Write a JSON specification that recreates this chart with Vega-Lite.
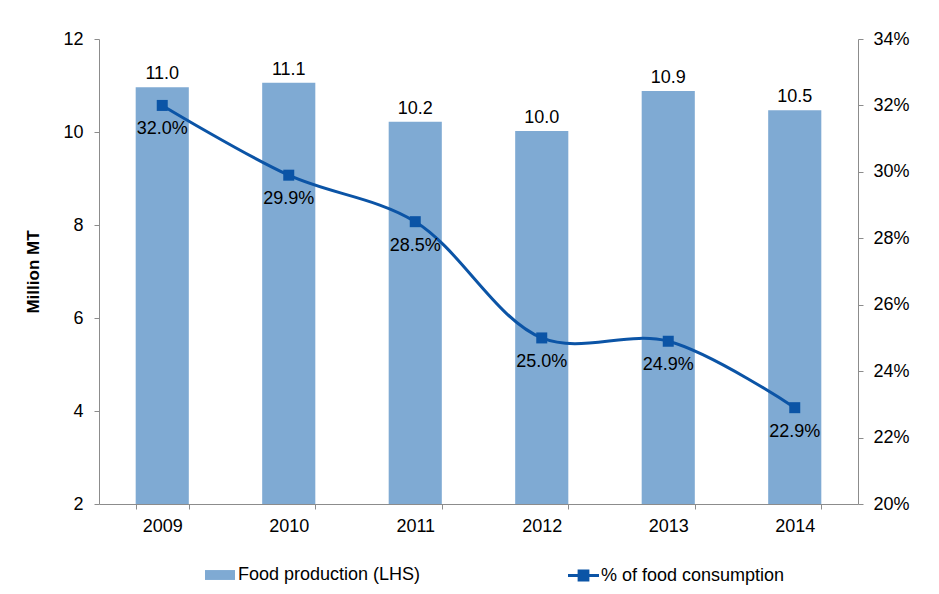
{
  "$schema": "https://vega.github.io/schema/vega-lite/v6.json",
  "width": 759,
  "height": 465,
  "autosize": "none",
  "padding": {"left": 99, "top": 39, "right": 81, "bottom": 90},
  "background": "white",
  "config": {
    "view": {"stroke": null},
    "font": "Liberation Sans",
    "axis": {"labelFont": "Liberation Sans", "labelFontSize": 18, "labelColor": "#000000", "domainColor": "#8c8c8c", "tickColor": "#8c8c8c", "tickSize": 5, "grid": false},
    "legend": {"labelFont": "Liberation Sans", "labelFontSize": 18, "labelColor": "#000000", "padding": 0, "labelLimit": 400}
  },
  "data": {
    "values": [
      {"year": "2009", "prod": 10.96, "share": 0.320},
      {"year": "2010", "prod": 11.06, "share": 0.299},
      {"year": "2011", "prod": 10.22, "share": 0.285},
      {"year": "2012", "prod": 10.02, "share": 0.250},
      {"year": "2013", "prod": 10.88, "share": 0.249},
      {"year": "2014", "prod": 10.47, "share": 0.229}
    ]
  },
  "encoding": {
    "x": {
      "field": "year", "type": "nominal",
      "scale": {"paddingInner": 0.58, "paddingOuter": 0.29},
      "axis": {"title": null, "labelAngle": 0, "tickBand": "extent", "labelPadding": 8}
    }
  },
  "layer": [
    {
      "mark": {"type": "bar", "color": "#7FAAD3"},
      "encoding": {
        "y": {"field": "prod", "type": "quantitative", "scale": {"domain": [2, 12], "zero": false, "nice": false},
          "axis": {"title": "Million MT", "titleFont": "Liberation Sans", "titleFontSize": 17, "titleFontWeight": "bold", "titleColor": "#000000", "titlePadding": 20, "values": [2, 4, 6, 8, 10, 12], "labelPadding": 11}},
        "y2": {"datum": 2},
        "color": {"datum": "Food production (LHS)", "scale": {"range": ["#7FAAD3"]},
          "legend": {"title": null, "orient": "none", "legendX": 106, "legendY": 521, "symbolType": "M-1,-0.33H1V0.33H-1Z", "symbolSize": 900, "symbolStrokeWidth": 0, "labelOffset": 3}}
      }
    },
    {
      "mark": {"type": "text", "baseline": "bottom", "dy": -4, "fontSize": 18, "font": "Liberation Sans", "color": "#000000"},
      "encoding": {
        "y": {"field": "prod", "type": "quantitative", "scale": {"domain": [2, 12], "zero": false, "nice": false}, "axis": null},
        "text": {"field": "prod", "type": "quantitative", "format": ".1f"}
      }
    },
    {
      "mark": {"type": "line", "interpolate": "catmull-rom", "strokeWidth": 3, "point": {"shape": "square", "size": 121, "filled": true, "color": "#0B54A6"}},
      "encoding": {
        "y": {"field": "share", "type": "quantitative", "scale": {"domain": [0.2, 0.34], "zero": false, "nice": false},
          "axis": {"orient": "right", "title": null, "format": ".0%", "values": [0.2, 0.22, 0.24, 0.26, 0.28, 0.3, 0.32, 0.34], "labelPadding": 10}},
        "color": {"datum": "% of food consumption", "scale": {"range": ["#0B54A6"]},
          "legend": {"title": null, "orient": "none", "legendX": 469, "legendY": 521, "symbolType": "M-1,-0.1H-0.38V-0.38H0.38V-0.1H1V0.1H0.38V0.38H-0.38V0.1H-1Z", "symbolSize": 961, "symbolFillColor": "#0B54A6", "symbolStrokeWidth": 0, "labelOffset": 2}}
      }
    },
    {
      "mark": {"type": "text", "baseline": "middle", "dy": 24, "fontSize": 18, "font": "Liberation Sans", "color": "#000000"},
      "encoding": {
        "y": {"field": "share", "type": "quantitative", "scale": {"domain": [0.2, 0.34], "zero": false, "nice": false}, "axis": null},
        "text": {"field": "share", "type": "quantitative", "format": ".1%"}
      }
    }
  ],
  "resolve": {"scale": {"y": "independent", "color": "independent"}}
}
